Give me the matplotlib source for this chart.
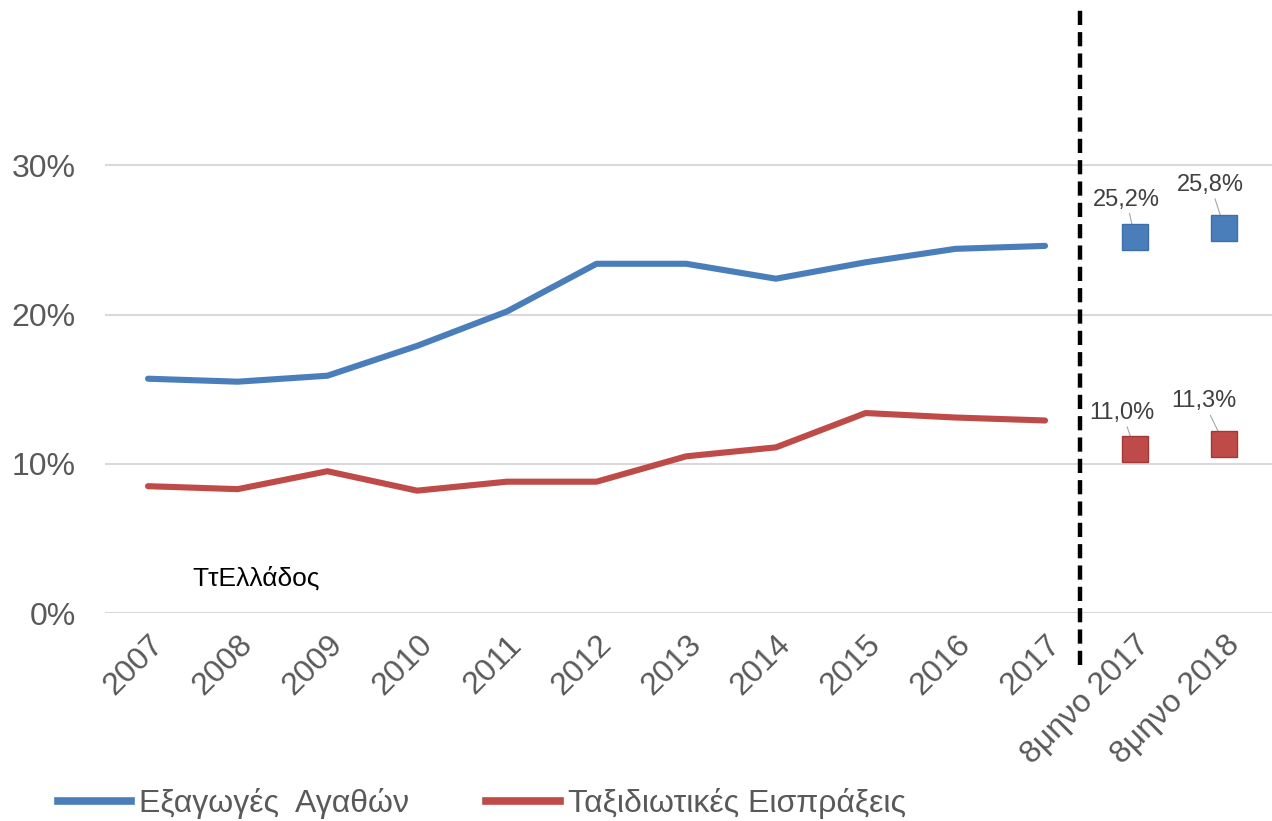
import matplotlib

matplotlib.use("Agg")
import matplotlib.pyplot as plt
from matplotlib.lines import Line2D
from matplotlib.ticker import FuncFormatter

plt.rcParams["font.family"] = ["Liberation Sans", "DejaVu Sans"]

BLUE = "#4A7EBB"
RED = "#BE4B48"
GRID = "#D9D9D9"
TICK = "#595959"

years = ["2007", "2008", "2009", "2010", "2011", "2012",
         "2013", "2014", "2015", "2016", "2017"]
period_labels = ["8μηνο 2017", "8μηνο 2018"]

exports = [15.7, 15.5, 15.9, 17.9, 20.2, 23.4, 23.4, 22.4, 23.5, 24.4, 24.6]
travel = [8.5, 8.3, 9.5, 8.2, 8.8, 8.8, 10.5, 11.1, 13.4, 13.1, 12.9]

exports_8m = [25.2, 25.8]
travel_8m = [11.0, 11.3]

fig = plt.figure(figsize=(12.72, 8.21), dpi=100)
ax = fig.add_axes([0.0825, 0.2533, 0.9175, 0.7272])

xs = list(range(len(years)))
xs_8m = [len(years) + i for i in range(len(period_labels))]

ax.plot(xs, exports, color=BLUE, linewidth=4.4, solid_capstyle="round", zorder=3)
ax.plot(xs, travel, color=RED, linewidth=4.4, solid_capstyle="round", zorder=3)

ax.plot(xs_8m, exports_8m, linestyle="none", marker="s", markersize=19,
        color=BLUE, markeredgecolor="#3F6FA8", zorder=4)
ax.plot(xs_8m, travel_8m, linestyle="none", marker="s", markersize=19,
        color=RED, markeredgecolor="#A03A37", zorder=4)

offsets_exp = [(-6, 19), (-10, 23)]
offsets_tr = [(-9, 18), (-15, 23)]
for x, v, off in zip(xs_8m, exports_8m, offsets_exp):
    ax.annotate(f"{v:.1f}%".replace(".", ","), xy=(x, v), xytext=off,
                textcoords="offset points", ha="center", va="bottom",
                fontsize=17, color="#404040",
                arrowprops=dict(arrowstyle="-", color="#A6A6A6", lw=0.8,
                                shrinkA=0, shrinkB=0))
for x, v, off in zip(xs_8m, travel_8m, offsets_tr):
    ax.annotate(f"{v:.1f}%".replace(".", ","), xy=(x, v), xytext=off,
                textcoords="offset points", ha="center", va="bottom",
                fontsize=17, color="#404040",
                arrowprops=dict(arrowstyle="-", color="#A6A6A6", lw=0.8,
                                shrinkA=0, shrinkB=0))

# separator between annual and 8-month figures
sep = len(years) - 0.61
ax.plot([sep, sep], [-3.5, 40.4], color="black", linewidth=3.2,
        linestyle=(0, (3.2, 1.6)), clip_on=False, zorder=5)

ax.set_xlim(-0.48, 12.53)
ax.set_ylim(0, 40)
ax.set_yticks([0, 10, 20, 30])
ax.yaxis.set_major_formatter(FuncFormatter(lambda v, _: f"{v:.0f}%"))
ax.set_xticks(xs + xs_8m)
ax.set_xticklabels(years + period_labels, rotation=45, ha="right",
                   rotation_mode="anchor")
ax.tick_params(axis="both", length=0, labelcolor=TICK)
ax.tick_params(axis="x", pad=12, labelsize=23)
ax.tick_params(axis="y", pad=21, labelsize=23)
ax.grid(axis="y", color=GRID, linewidth=1.5)
ax.set_axisbelow(True)
for spine in ax.spines.values():
    spine.set_visible(False)

ax.text(0.5, 2.3, "ΤτΕλλάδος", fontsize=19, color="black", ha="left", va="center")

handles = [Line2D([], [], color=BLUE, linewidth=5.5),
           Line2D([], [], color=RED, linewidth=5.5)]
fig.legend(handles, ["Εξαγωγές  Αγαθών", "Ταξιδιωτικές Εισπράξεις"],
           loc="lower left", bbox_to_anchor=(0.023, -0.033), ncol=2,
           frameon=False, fontsize=23, handlelength=2.3, columnspacing=2.4,
           handletextpad=0.25, labelcolor=TICK)

fig.savefig("out.png", dpi=100, facecolor="white")
